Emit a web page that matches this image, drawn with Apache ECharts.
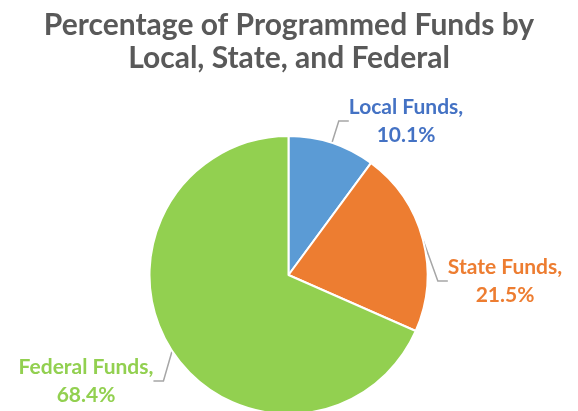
<!DOCTYPE html>
<html>
<head>
<meta charset="utf-8">
<script src="https://cdn.jsdelivr.net/npm/echarts@6/dist/echarts.min.js"></script>
<style>
  html, body { margin: 0; padding: 0; background: #fff; }
  #chart { width: 578px; height: 411px; }
</style>
</head>
<body>
<div id="chart"></div>
<script>
// Funding shares by source (percent)
const categories = ['Local Funds', 'State Funds', 'Federal Funds'];
const shares = [10.1, 21.5, 68.4];
const sliceColors = ['#5B9BD5', '#ED7D31', '#92D050'];
const labelColors = ['#4472C4', '#ED7D31', '#92D050'];

// Where each outside label block is centred
const labelSpots = [
  { x: 406, y: 121 },
  { x: 505, y: 281 },
  { x: 86, y: 381 }
];

const chart = echarts.init(document.getElementById('chart'), null, { renderer: 'canvas' });

chart.setOption({
  animation: false,
  title: {
    text: 'Percentage of Programmed Funds by\nLocal, State, and Federal',
    left: 'center',
    top: 4,
    textStyle: {
      fontFamily: 'Lato',
      fontSize: 30,
      fontWeight: 'bold',
      color: '#595959',
      lineHeight: 33
    }
  },
  series: [{
    type: 'pie',
    center: [288.5, 275],
    radius: 139,
    startAngle: 90,
    clockwise: true,
    itemStyle: { borderColor: '#fff', borderWidth: 2 },
    label: {
      show: true,
      position: 'outside',
      formatter: '{b},\n{c}%',
      fontFamily: 'Lato',
      fontSize: 21,
      fontWeight: 'bold',
      lineHeight: 28,
      align: 'center'
    },
    labelLine: {
      show: true,
      length: 12,
      length2: 10,
      lineStyle: { color: '#A6A6A6', width: 1.5 }
    },
    labelLayout: function (p) {
      const s = labelSpots[p.dataIndex];
      return { x: s.x, y: s.y, align: 'center', verticalAlign: 'middle' };
    },
    data: categories.map((name, i) => ({
      name: name,
      value: shares[i],
      itemStyle: { color: sliceColors[i] },
      label: { color: labelColors[i] }
    }))
  }]
});
</script>
</body>
</html>
